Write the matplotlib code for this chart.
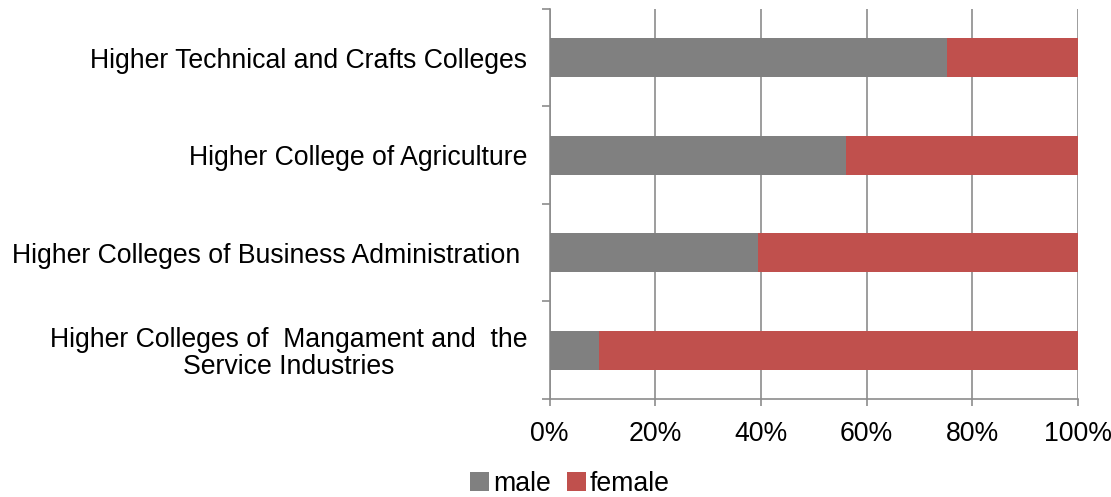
import numpy as np
import matplotlib.pyplot as plt
from matplotlib.ticker import FixedLocator, PercentFormatter

plt.rcParams['font.family'] = ['Liberation Sans', 'DejaVu Sans']

colleges = ['Higher Colleges of  Mangament and  the\nService Industries',
            'Higher Colleges of Business Administration ',
            'Higher College of Agriculture',
            'Higher Technical and Crafts Colleges']
male = np.array([9.4, 39.5, 56.0, 75.2])
female = 100 - male

fig = plt.figure(figsize=(11.11, 4.97), dpi=100)
ax = fig.add_axes([0.4947, 0.1972, 0.4756, 0.7847])

y = np.arange(len(colleges))
ax.barh(y, male, height=0.4, color='#808080', label='male', zorder=3)
ax.barh(y, female, left=male, height=0.4, color='#C0504D', label='female', zorder=3)

ax.set_xlim(0, 100)
ax.set_ylim(-0.5, len(colleges) - 0.5)
ax.xaxis.set_major_locator(FixedLocator(np.arange(0, 101, 20)))
ax.xaxis.set_major_formatter(PercentFormatter(decimals=0))
ax.grid(axis='x', color='#8c8c8c', linewidth=1.2, zorder=0)

ax.yaxis.set_major_locator(FixedLocator(np.arange(-0.5, len(colleges), 1.0)))
ax.yaxis.set_minor_locator(FixedLocator(y))
ax.set_yticklabels([])
ax.set_yticklabels(colleges, minor=True, ha='center', multialignment='center',
                   linespacing=1.05)
ax.tick_params(axis='y', which='major', length=6, color='#8c8c8c', width=1.2)
ax.tick_params(axis='y', which='minor', length=0, labelsize=19.2, pad=16)
ax.tick_params(axis='x', length=5, color='#8c8c8c', width=1.2, labelsize=19.2, pad=11)

# right-align the label block while keeping multi-line centred
for lab in ax.get_yticklabels(minor=True):
    lab.set_horizontalalignment('right')

for s in ['top', 'right']:
    ax.spines[s].set_visible(False)
for s in ['left', 'bottom']:
    ax.spines[s].set_color('#8c8c8c')
    ax.spines[s].set_linewidth(1.2)

fig.legend(loc='lower center', bbox_to_anchor=(0.513, -0.048), ncol=2, frameon=False,
           fontsize=19.2, handlelength=0.7, handleheight=0.7, handletextpad=0.15,
           columnspacing=0.6)

plt.savefig('out.png', dpi=100)
